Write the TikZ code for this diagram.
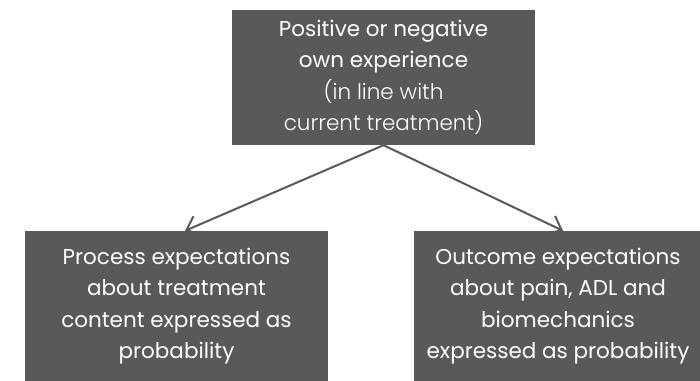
\documentclass[tikz,border=0pt]{standalone}
\usepackage{fontspec}
\setmainfont{Poppins}
\newfontfamily\poplight{Poppins}[UprightFont=*-Light]
\usetikzlibrary{arrows.meta,calc,backgrounds}
\definecolor{boxgray}{HTML}{58595B}
\definecolor{linegray}{HTML}{58595B}
\tikzset{
  graybox/.style={fill=boxgray, text=white, inner sep=0pt, align=center,
    font=\fontsize{21.5}{31.5}\selectfont},
  link/.style={draw=linegray, line width=2pt,
    -{Straight Barb[length=12pt,width=20pt,line width=2pt]}}
}
\begin{document}
\begin{tikzpicture}[x=1pt,y=-1pt]
\useasboundingbox (0,0) rectangle (700,380);
\node[graybox, minimum width=303pt, minimum height=135pt] (top) at (383.5,77.5)
  {Positive or negative\\own experience\\{\poplight (in line with}\\{\poplight current treatment)}};
\node[graybox, minimum width=303pt, minimum height=150pt] (L) at (176.5,306)
  {Process expectations\\about treatment\\content expressed as\\probability};
\node[graybox, minimum width=288pt, minimum height=150pt] (R) at (558,306)
  {Outcome expectations\\about pain, ADL and\\biomechanics\\expressed as probability};
\begin{scope}[on background layer]
\draw[link] (top.south) -- ($(L.north)+(8.5,0)$);
\draw[link] (top.south) -- ($(R.north)+(5,0)$);
\end{scope}
\end{tikzpicture}
\end{document}
